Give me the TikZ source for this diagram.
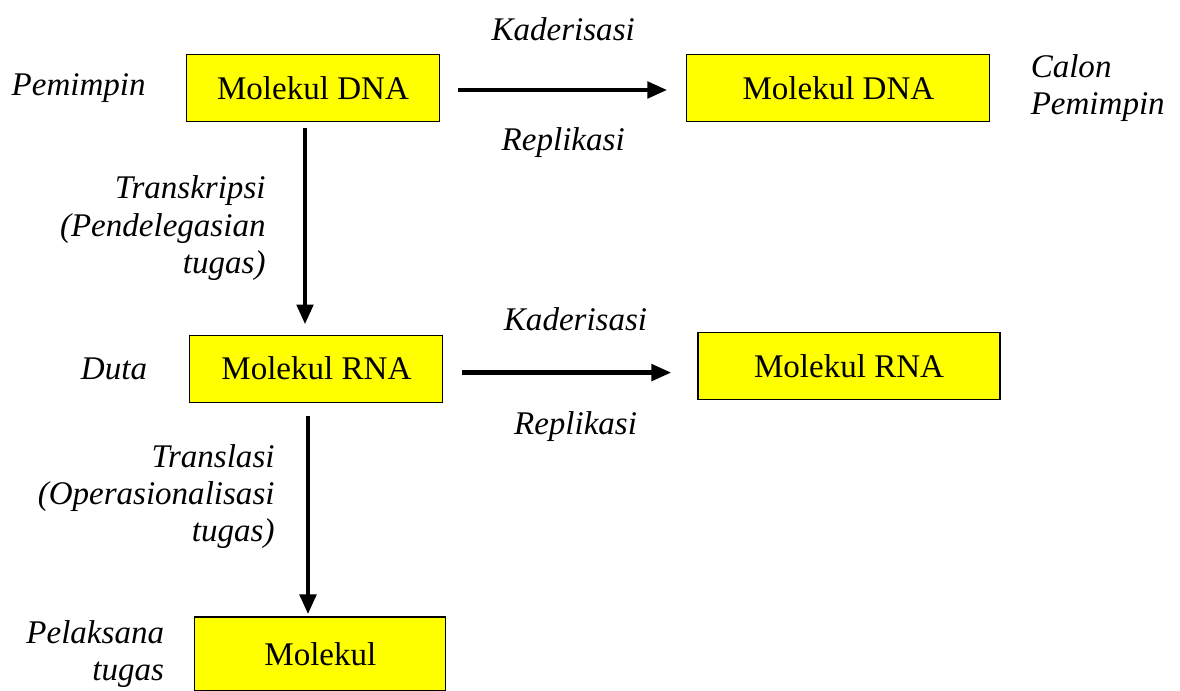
\documentclass[tikz,border=0pt]{standalone}
\usepackage{fontspec}
\setmainfont{Liberation Serif}
\usepackage{tikz}
\usetikzlibrary{arrows.meta,positioning}
\definecolor{boxyellow}{RGB}{255,255,0}

\begin{document}
\begin{tikzpicture}[font=\fontsize{23.5}{26.5}\selectfont,
    flow/.style={line width=3.5pt,-{Triangle[length=0.5cm,width=0.4cm]}},
    lbl/.style={inner sep=0pt,font=\fontsize{23.5}{26.5}\selectfont\itshape}]%
        \useasboundingbox (0,0) rectangle (29.5,17.275);%%
        \begin{scope}
            \tikzstyle{every node}=[draw=black,line width=0.8pt,fill=boxyellow,inner sep=0pt,minimum height=1.675cm];%%
            \node[minimum width=6.325cm] (dna1) at (7.825,15.075) {Molekul DNA}; %%
            \node[minimum width=7.575cm] (dna2) at (20.96,15.075) {Molekul DNA}; %%
            \node[minimum width=6.325cm] (rna1) at (7.91,8.06) {Molekul RNA}; %%
            \node[minimum width=7.55cm] (rna2) at (21.225,8.125) {Molekul RNA}; %%
            \node[minimum width=6.275cm,minimum height=1.85cm] (mol) at (8.01,0.925) {Molekul}; %%
        \end{scope}
        \begin{scope}
    \tikzstyle{every node}=[lbl];%%
    \node[left=1cm] (pemimpin) at (dna1.west) {Pemimpin}; %%
    \node[right=1cm,align=left] (calon) at (dna2.east) {Calon\\Pemimpin}; %%
    \node[left=1.05cm] (duta) at (rna1.west) {Duta}; %%
    \node[left=0.75cm,align=right] (pelaksana) at (mol.west) {Pelaksana\\tugas}; %%
        \end{scope}
        \draw[flow,shorten <=0.45cm,shorten >=0.475cm] ([yshift=-0.05cm]dna1.east) -- node[lbl,above=1.175cm] (kad1) {Kaderisasi} node[lbl,below=0.875cm] (rep1) {Replikasi} ([yshift=-0.05cm]dna1.east -| dna2.west); %%
        \draw[flow,shorten <=0.475cm,shorten >=0.65cm] ([yshift=-0.1cm]rna1.east) -- node[pos=0.52,lbl,above=0.975cm] (kad2) {Kaderisasi} node[pos=0.52,lbl,below=0.925cm] (rep2) {Replikasi} ([yshift=-0.1cm]rna1.east -| rna2.west); %%
        \draw[flow,shorten <=0.15cm,shorten >=0.25cm] ([xshift=-0.2cm]dna1.south) -- node[lbl,left=0.925cm,align=right] (trans) {Transkripsi\\(Pendelegasian\\tugas)} ([xshift=-0.2cm]dna1.south |- rna1.north); %%
        \draw[flow,shorten <=0.325cm,shorten >=0.05cm] ([xshift=-0.21cm]rna1.south) -- node[pos=0.44,lbl,left=0.775cm,align=right] (transl) {Translasi\\(Operasionalisasi\\tugas)} ([xshift=-0.21cm]rna1.south |- mol.north); %%
        \end{tikzpicture}
\end{document}
